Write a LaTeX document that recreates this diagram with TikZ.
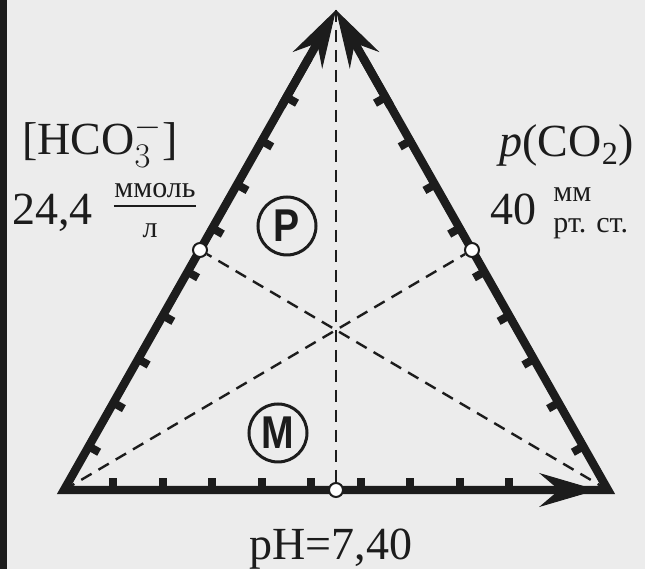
\documentclass[tikz,border=0pt]{standalone}
\usepackage{fontspec}
\setmainfont{Liberation Serif}
\newfontfamily\circfont{Liberation Sans}
\usepackage{xcolor}
\usetikzlibrary{arrows.meta,calc,positioning}
\definecolor{paper}{RGB}{236,236,236}
\definecolor{ink}{RGB}{28,28,28}
\newcommand{\bigtext}{\fontsize{23}{26}\selectfont}
\newcommand{\unittext}{\fontsize{15}{16}\selectfont}

\begin{document}
\begin{tikzpicture}[x=0.5pt,y=0.5pt,
  side/.style={draw=ink,line width=4.2pt},
  tip/.style={-{Stealth[length=29pt 0 0,width=17pt 0 0,inset=10pt,line width=0.5pt]}},
  tick/.style={draw=ink,line width=4pt},
  median/.style={draw=ink,line width=1.2pt,dash pattern=on 6pt off 4pt},
  midpt/.style={circle,draw=ink,fill=white,line width=1pt,minimum size=7pt,inner sep=0pt},
  region/.style={circle,draw=ink,line width=1.5pt,minimum size=29pt,inner sep=0pt,text=ink,font=\circfont\bfseries\fontsize{23}{23}\selectfont},
  lbl/.style={text=ink,font=\bigtext,inner sep=0pt}]
\useasboundingbox (0,0) rectangle (645,569);
\fill[paper] (0,0) rectangle (645,569);
\fill[ink] (0,0) rectangle (7,569);
\coordinate (A) at (64,79);
\coordinate (B) at (608,79);
\coordinate (C) at (336,559);
\draw[side,line join=miter] ($(A)!.9!(C)$) -- (A) -- (B) -- ($(B)!.9!(C)$);
\foreach \k in {1,...,9}{
  \path ($(A)!\k/11!(B)$) coordinate (t1) ($(A)!\k/11!(C)$) coordinate (t2) ($(B)!\k/11!(C)$) coordinate (t3);
  \draw[tick] (t1) -- ($(t1)!6pt!90:(B)$);
  \draw[tick] (t2) -- ($(t2)!6pt!-90:(C)$);
  \draw[tick] (t3) -- ($(t3)!6pt!90:(C)$);
}
\draw[side,tip] ($(A)!.8!(C)$) -- (C);
\draw[side,tip] ($(B)!.8!(C)$) -- (C);
\draw[side,tip] ($(A)!.8!(B)$) -- ($(A)!.98!(B)$);
\node[midpt] (mAB) at ($(A)!.5!(B)$) {};
\node[midpt] (mBC) at ($(B)!.5!(C)$) {};
\node[midpt] (mCA) at ($(C)!.5!(A)$) {};
\draw[median] (C) -- (mAB);
\draw[median] (A) -- (mBC);
\draw[median] (B) -- (mCA);
\node[region] (P) at (287,343) {\scalebox{.85}[1]{P}};
\node[region] (M) at (278,136) {\scalebox{.85}[1]{M}};
\node[lbl,anchor=base] (hco) at (100,414) {[HCO$^{-}_{3}$]};
\node[lbl,anchor=base west] (cval) at (12,344) {24,4};
\node[lbl,font=\unittext,anchor=base,inner ysep=3.5pt] (cnum) at (155,371) {ммоль};
\draw[ink,line width=1pt] (cnum.south west) -- (cnum.south east);
\node[lbl,font=\unittext,anchor=base] (cden) at (150,331) {л};
\node[lbl,anchor=base] (pco) at (567,412) {\textit{p}(CO\textsubscript{2})};
\node[lbl,anchor=base west] (pval) at (490,344) {40};
\node[lbl,font=\unittext,anchor=base west] (pnum) at (553,367) {мм};
\node[lbl,font=\unittext,anchor=base west] (pden) at (553,336) {рт. ст.};
\node[lbl,anchor=base] (ph) at (331,9) {pH=7,40};
\end{tikzpicture}
\end{document}
